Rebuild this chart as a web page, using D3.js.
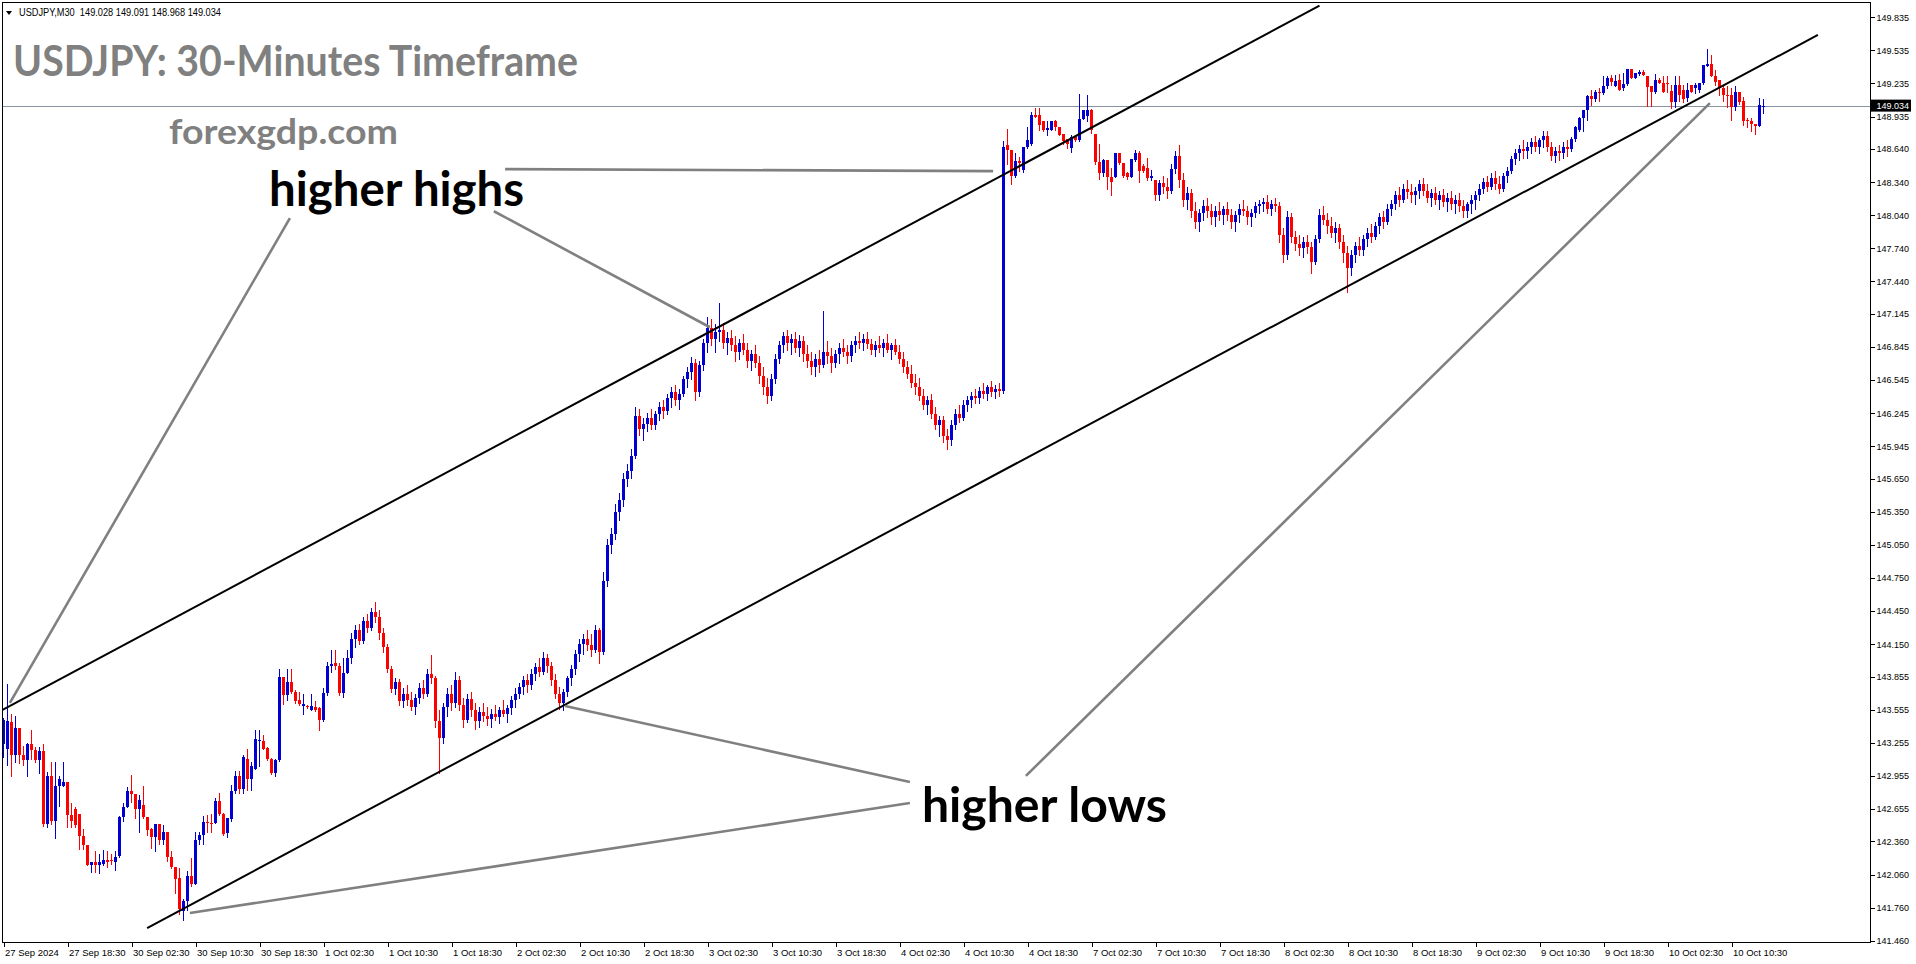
<!DOCTYPE html>
<html><head><meta charset="utf-8">
<script src="https://cdn.jsdelivr.net/npm/d3@7"></script>
<style>
html,body{margin:0;padding:0;background:#fff;overflow:hidden}
svg{display:block}
</style></head><body>
<svg id="chart" width="1916" height="964"></svg>
<script>
// ---------------- DATA ----------------
const symbolInfo = "USDJPY,M30  149.028 149.091 148.968 149.034";
const titleText = "USDJPY: 30-Minutes Timeframe";
const siteText = "forexgdp.com";
const lastPrice = 149.034;

const opens = [
143.24,143.20,143.44,143.14,143.39,143.14,143.10,143.24,143.19,143.10,
143.18,142.52,142.95,142.55,142.86,142.86,142.90,142.60,142.65,142.61,
142.41,142.33,142.15,142.17,142.15,142.16,142.19,142.19,142.17,142.23,
142.58,142.67,142.82,142.79,142.65,142.69,142.58,142.47,142.40,142.52,
142.37,142.45,142.22,142.13,142.03,141.73,141.82,142.05,141.97,142.37,
142.42,142.54,142.53,142.53,142.73,142.61,142.44,142.56,142.82,142.95,
142.84,143.11,142.93,143.02,143.27,143.27,143.21,143.11,142.98,143.10,
143.85,143.69,143.81,143.72,143.64,143.59,143.59,143.55,143.58,143.57,
143.46,143.71,143.95,143.98,143.95,143.71,143.89,144.02,144.20,144.28,
144.18,144.36,144.30,144.44,144.40,144.25,144.12,143.92,143.74,143.81,
143.63,143.70,143.64,143.58,143.66,143.75,143.70,143.88,143.84,143.45,
143.30,143.58,143.70,143.62,143.82,143.60,143.46,143.65,143.55,143.45,
143.53,143.50,143.47,143.52,143.49,143.55,143.52,143.57,143.64,143.70,
143.76,143.82,143.78,143.88,143.94,143.90,144.02,143.95,143.82,143.70,
143.62,143.72,143.84,143.92,144.06,144.15,144.20,144.14,144.10,144.28,
144.08,144.72,145.05,145.15,145.35,145.46,145.65,145.72,145.86,146.22,
146.10,146.15,146.20,146.14,146.24,146.30,146.26,146.38,146.44,146.36,
146.42,146.55,146.62,146.70,146.44,146.68,146.88,147.02,146.92,146.98,
147.00,146.88,146.93,146.86,146.80,146.88,146.82,146.72,146.78,146.70,
146.58,146.48,146.40,146.55,146.74,146.86,146.94,146.88,146.92,146.84,
146.90,146.78,146.72,146.66,146.74,146.68,146.80,146.76,146.70,146.78,
146.84,146.80,146.76,146.86,146.90,146.88,146.92,146.87,146.82,146.86,
146.84,146.88,146.82,146.86,146.80,146.74,146.66,146.60,146.52,146.48,
146.40,146.32,146.36,146.24,146.14,146.18,146.04,146.00,146.14,146.24,
146.20,146.32,146.36,146.40,146.38,146.45,146.42,146.48,146.44,146.46,
146.45,148.68,148.63,148.40,148.53,148.45,148.66,148.69,148.95,148.95,
148.89,148.81,148.81,148.89,148.84,148.78,148.73,148.65,148.75,148.72,
148.91,148.94,148.99,148.78,148.52,148.42,148.54,148.39,148.39,148.60,
148.51,148.42,148.39,148.54,148.60,148.49,148.47,148.38,148.36,148.22,
148.33,148.30,148.26,148.46,148.58,148.36,148.18,148.24,148.08,147.98,
148.06,148.12,148.08,148.02,148.08,148.04,148.10,148.04,147.98,148.04,
148.10,148.08,148.02,148.06,148.12,148.14,148.16,148.10,148.14,148.12,
147.86,147.68,148.02,147.84,147.78,147.74,147.80,147.75,147.62,147.82,
148.04,148.00,147.94,147.88,147.92,147.80,147.70,147.56,147.68,147.76,
147.72,147.82,147.88,147.84,147.94,148.02,147.98,148.10,148.14,148.22,
148.18,148.28,148.25,148.22,148.26,148.32,148.26,148.20,148.24,148.18,
148.22,148.16,148.20,148.14,148.18,148.12,148.08,148.14,148.18,148.22,
148.28,148.34,148.30,148.38,148.32,148.28,148.40,148.44,148.55,148.60,
148.64,148.62,148.66,148.70,148.66,148.72,148.76,148.66,148.58,148.62,
148.60,148.66,148.64,148.73,148.81,148.92,148.99,149.12,149.09,149.16,
149.15,149.21,149.28,149.21,149.27,149.19,149.23,149.37,149.28,149.32,
149.34,149.30,149.21,149.16,149.27,149.24,149.24,149.17,149.07,149.22,
149.18,149.10,149.22,149.19,149.18,149.24,149.39,149.41,149.30,149.27,
149.19,149.13,149.13,149.02,149.16,149.08,148.90,148.89,148.87,148.85,
149.028];

const highs = [
143.48,143.79,143.52,143.50,143.39,143.23,143.25,143.37,143.22,143.22,
143.24,142.99,143.08,143.08,142.95,143.08,142.90,142.71,142.67,142.61,
142.47,142.33,142.17,142.27,142.25,142.28,142.27,142.25,142.27,142.59,
142.71,142.85,142.96,142.79,142.78,142.86,142.58,142.48,142.52,142.52,
142.51,142.45,142.27,142.13,142.12,141.84,142.09,142.21,142.45,142.45,
142.59,142.60,142.61,142.75,142.80,142.62,142.57,142.87,143.00,143.00,
143.14,143.20,143.08,143.37,143.37,143.33,143.22,143.12,143.11,143.92,
143.85,143.92,143.92,143.73,143.72,143.70,143.60,143.70,143.63,143.58,
143.75,143.99,144.10,144.10,143.98,144.02,144.10,144.25,144.32,144.33,
144.40,144.42,144.48,144.53,144.46,144.30,144.15,143.95,143.84,143.83,
143.75,143.78,143.72,143.70,143.80,143.82,143.92,144.05,143.86,143.55,
143.62,143.75,143.78,143.90,143.86,143.66,143.70,143.72,143.62,143.58,
143.62,143.58,143.56,143.60,143.58,143.64,143.60,143.68,143.75,143.80,
143.86,143.88,143.92,143.98,144.02,144.08,144.06,143.99,143.88,143.76,
143.74,143.86,143.96,144.10,144.20,144.24,144.28,144.24,144.32,144.30,
144.80,145.10,145.20,145.42,145.52,145.70,145.78,145.92,146.30,146.28,
146.20,146.25,146.28,146.26,146.35,146.36,146.42,146.48,146.50,146.46,
146.58,146.66,146.75,146.74,146.72,146.92,147.12,147.10,147.05,147.24,
147.06,146.98,147.00,146.94,146.92,146.96,146.88,146.82,146.86,146.76,
146.66,146.56,146.60,146.78,146.90,146.98,147.00,146.96,146.98,146.95,
146.94,146.86,146.80,146.78,146.82,147.17,146.90,146.84,146.82,146.88,
146.92,146.86,146.90,146.94,146.98,146.96,146.98,146.92,146.90,146.94,
146.92,146.96,146.88,146.92,146.86,146.80,146.72,146.68,146.60,146.56,
146.46,146.40,146.42,146.30,146.22,146.22,146.10,146.18,146.28,146.32,
146.36,146.40,146.44,146.46,146.48,146.52,146.50,146.54,146.50,146.52,
148.71,148.82,148.63,148.60,148.57,148.66,148.84,148.98,149.01,149.01,
148.89,148.89,148.89,148.90,148.84,148.78,148.73,148.77,148.77,149.14,
148.99,149.13,149.00,148.78,148.69,148.55,148.54,148.47,148.60,148.60,
148.51,148.43,148.55,148.63,148.62,148.50,148.56,148.45,148.36,148.36,
148.40,148.38,148.50,148.62,148.68,148.42,148.30,148.28,148.16,148.10,
148.18,148.20,148.14,148.12,148.16,148.12,148.16,148.10,148.08,148.14,
148.18,148.12,148.10,148.16,148.18,148.20,148.22,148.18,148.20,148.16,
147.92,148.08,148.06,147.90,147.86,147.84,147.86,147.80,147.86,148.10,
148.12,148.06,148.02,147.98,147.96,147.86,147.76,147.72,147.80,147.84,
147.86,147.92,147.96,147.98,148.06,148.08,148.14,148.18,148.26,148.30,
148.32,148.36,148.32,148.30,148.36,148.38,148.32,148.28,148.30,148.26,
148.28,148.24,148.26,148.22,148.24,148.18,148.16,148.22,148.26,148.32,
148.38,148.40,148.42,148.44,148.40,148.42,148.48,148.58,148.64,148.68,
148.72,148.70,148.74,148.76,148.74,148.80,148.80,148.70,148.66,148.68,
148.70,148.72,148.75,148.85,148.93,148.99,149.13,149.18,149.18,149.19,
149.30,149.30,149.31,149.31,149.32,149.33,149.37,149.37,149.33,149.36,
149.36,149.30,149.21,149.32,149.28,149.30,149.30,149.22,149.30,149.30,
149.22,149.24,149.22,149.24,149.24,149.40,149.55,149.49,149.36,149.27,
149.22,149.21,149.19,149.21,149.16,149.11,148.92,148.92,148.87,149.10,
149.091];

const lows = [
143.13,143.05,142.95,143.08,143.07,143.05,142.95,143.11,143.08,142.98,
142.50,142.49,142.52,142.39,142.68,142.86,142.49,142.49,142.49,142.29,
142.29,142.15,142.08,142.08,142.07,142.15,142.13,142.16,142.10,142.22,
142.55,142.67,142.72,142.57,142.45,142.57,142.42,142.30,142.27,142.34,
142.34,142.18,142.12,141.89,141.70,141.65,141.74,141.96,141.97,142.34,
142.34,142.45,142.45,142.53,142.60,142.42,142.40,142.55,142.80,142.80,
142.80,142.83,142.83,143.02,143.04,143.20,143.10,142.97,142.95,143.09,
143.61,143.64,143.71,143.62,143.60,143.52,143.57,143.55,143.54,143.37,
143.45,143.69,143.90,143.92,143.69,143.67,143.89,143.98,144.12,144.15,
144.16,144.26,144.28,144.35,144.20,144.08,143.90,143.72,143.70,143.60,
143.58,143.60,143.55,143.52,143.62,143.66,143.68,143.80,143.40,142.98,
143.25,143.50,143.55,143.58,143.55,143.40,143.44,143.50,143.38,143.40,
143.45,143.42,143.40,143.46,143.43,143.50,143.44,143.52,143.58,143.66,
143.70,143.72,143.74,143.82,143.86,143.88,143.90,143.78,143.66,143.56,
143.55,143.68,143.78,143.88,144.00,144.06,144.10,144.04,144.08,143.98,
144.06,144.68,144.98,145.10,145.28,145.40,145.58,145.66,145.84,146.05,
146.00,146.08,146.10,146.10,146.18,146.20,146.24,146.30,146.32,146.28,
146.40,146.48,146.55,146.36,146.40,146.64,146.80,146.86,146.80,146.90,
146.84,146.78,146.82,146.72,146.74,146.78,146.66,146.64,146.66,146.52,
146.42,146.34,146.36,146.52,146.70,146.80,146.82,146.78,146.80,146.76,
146.72,146.66,146.60,146.58,146.62,146.66,146.70,146.62,146.66,146.70,
146.76,146.70,146.72,146.80,146.84,146.82,146.84,146.78,146.76,146.80,
146.76,146.80,146.74,146.78,146.70,146.62,146.56,146.48,146.42,146.36,
146.28,146.24,146.20,146.10,146.04,145.98,145.92,145.96,146.10,146.16,
146.18,146.26,146.30,146.34,146.34,146.38,146.36,146.40,146.38,146.40,
146.43,148.50,148.32,148.39,148.44,148.43,148.65,148.68,148.93,148.81,
148.80,148.77,148.81,148.81,148.77,148.69,148.65,148.61,148.71,148.71,
148.91,148.89,148.79,148.50,148.37,148.40,148.28,148.22,148.39,148.50,
148.39,148.37,148.39,148.53,148.34,148.43,148.36,148.36,148.18,148.18,
148.24,148.20,148.24,148.42,148.30,148.12,148.10,148.02,147.92,147.90,
148.00,148.02,147.96,147.94,148.00,147.96,148.00,147.92,147.90,147.98,
148.04,147.96,147.94,148.02,148.06,148.08,148.06,148.04,148.08,147.80,
147.62,147.64,147.80,147.72,147.68,147.66,147.70,147.52,147.60,147.80,
147.96,147.88,147.84,147.80,147.74,147.62,147.34,147.50,147.62,147.68,
147.68,147.76,147.80,147.82,147.88,147.92,147.96,148.04,148.10,148.12,
148.16,148.20,148.16,148.14,148.20,148.22,148.16,148.12,148.14,148.10,
148.12,148.08,148.10,148.06,148.08,148.02,148.02,148.06,148.10,148.18,
148.24,148.26,148.28,148.28,148.24,148.26,148.34,148.42,148.50,148.54,
148.56,148.56,148.60,148.62,148.60,148.66,148.62,148.54,148.52,148.54,
148.56,148.58,148.62,148.71,148.80,148.80,148.90,149.04,149.08,149.08,
149.14,149.19,149.22,149.21,149.18,149.18,149.22,149.28,149.28,149.31,
149.31,149.03,149.03,149.15,149.24,149.16,149.16,149.01,149.02,149.08,
149.07,149.08,149.16,149.15,149.16,149.23,149.39,149.30,149.22,149.13,
149.08,149.02,148.90,148.99,149.05,148.86,148.84,148.80,148.78,148.85,
148.968];

const closes = [
143.46,143.45,143.14,143.39,143.14,143.10,143.24,143.19,143.10,143.18,
142.52,142.95,142.55,142.86,142.93,142.90,142.60,142.55,142.51,142.41,
142.33,142.15,142.17,142.15,142.17,142.19,142.17,142.18,142.22,142.58,
142.67,142.82,142.79,142.65,142.74,142.58,142.46,142.40,142.52,142.37,
142.45,142.22,142.13,142.02,141.75,141.82,142.05,141.97,142.37,142.42,
142.54,142.53,142.52,142.73,142.61,142.43,142.57,142.82,142.95,142.84,
143.13,142.93,143.04,143.29,143.28,143.20,143.11,142.98,143.10,143.85,
143.69,143.81,143.72,143.63,143.61,143.61,143.58,143.59,143.55,143.46,
143.71,143.95,143.97,143.95,143.71,143.89,144.02,144.20,144.28,144.18,
144.36,144.30,144.44,144.40,144.25,144.12,143.92,143.74,143.81,143.63,
143.70,143.64,143.58,143.66,143.75,143.70,143.88,143.84,143.45,143.30,
143.58,143.70,143.62,143.82,143.60,143.46,143.65,143.55,143.45,143.53,
143.50,143.47,143.52,143.49,143.55,143.52,143.57,143.64,143.70,143.76,
143.82,143.78,143.88,143.94,143.90,144.02,143.95,143.82,143.70,143.62,
143.72,143.84,143.92,144.06,144.15,144.20,144.14,144.10,144.28,144.08,
144.72,145.05,145.15,145.35,145.46,145.65,145.72,145.86,146.22,146.10,
146.15,146.20,146.14,146.24,146.30,146.26,146.38,146.44,146.36,146.42,
146.55,146.62,146.70,146.44,146.68,146.88,147.02,146.92,146.98,147.00,
146.88,146.93,146.86,146.80,146.88,146.82,146.72,146.78,146.70,146.58,
146.48,146.40,146.55,146.74,146.86,146.94,146.88,146.92,146.84,146.90,
146.78,146.72,146.66,146.74,146.68,146.80,146.76,146.70,146.78,146.84,
146.80,146.76,146.86,146.90,146.88,146.92,146.87,146.82,146.86,146.84,
146.88,146.82,146.86,146.80,146.74,146.66,146.60,146.52,146.48,146.40,
146.32,146.36,146.24,146.14,146.18,146.04,146.00,146.14,146.24,146.20,
146.32,146.36,146.40,146.38,146.45,146.42,146.48,146.44,146.46,146.45,
148.66,148.63,148.40,148.53,148.51,148.66,148.72,148.95,148.93,148.86,
148.81,148.83,148.89,148.84,148.77,148.71,148.69,148.75,148.72,148.91,
148.99,148.99,148.81,148.52,148.42,148.54,148.39,148.34,148.60,148.51,
148.40,148.39,148.55,148.60,148.44,148.44,148.38,148.40,148.22,148.33,
148.30,148.26,148.46,148.58,148.36,148.18,148.24,148.08,147.98,148.06,
148.12,148.08,148.02,148.08,148.04,148.10,148.04,147.98,148.04,148.10,
148.08,148.02,148.06,148.12,148.14,148.16,148.10,148.14,148.12,147.86,
147.68,148.02,147.84,147.78,147.74,147.80,147.75,147.62,147.82,148.04,
148.00,147.94,147.88,147.92,147.80,147.70,147.56,147.68,147.76,147.72,
147.82,147.88,147.84,147.94,148.02,147.98,148.10,148.14,148.22,148.18,
148.28,148.25,148.22,148.26,148.32,148.26,148.20,148.24,148.18,148.22,
148.16,148.20,148.14,148.18,148.12,148.08,148.14,148.18,148.22,148.28,
148.34,148.30,148.38,148.32,148.28,148.40,148.44,148.55,148.60,148.64,
148.62,148.66,148.70,148.66,148.72,148.76,148.66,148.58,148.62,148.60,
148.66,148.64,148.73,148.84,148.92,148.99,149.12,149.09,149.16,149.15,
149.21,149.28,149.25,149.26,149.18,149.23,149.37,149.28,149.33,149.34,
149.31,149.20,149.16,149.27,149.24,149.16,149.23,149.07,149.22,149.13,
149.09,149.18,149.16,149.22,149.24,149.40,149.41,149.30,149.25,149.19,
149.13,149.12,149.02,149.16,149.07,148.89,148.89,148.87,148.85,149.04,
149.034];

const priceTicks = [141.460,141.760,142.060,142.360,142.655,142.955,143.255,143.555,143.855,
  144.150,144.450,144.750,145.050,145.350,145.650,145.945,146.245,146.545,146.845,147.145,
  147.440,147.740,148.040,148.340,148.640,148.935,149.235,149.535,149.835];

const timeTickBars = [0,16,32,48,64,80,96,112,128,144,160,176,192,208,224,240,256,272,288,304,320,336,352,368,384,400,416,432];
const timeTickLabels = ["27 Sep 2024","27 Sep 18:30","30 Sep 02:30","30 Sep 10:30","30 Sep 18:30",
  "1 Oct 02:30","1 Oct 10:30","1 Oct 18:30","2 Oct 02:30","2 Oct 10:30","2 Oct 18:30",
  "3 Oct 02:30","3 Oct 10:30","3 Oct 18:30","4 Oct 02:30","4 Oct 10:30","4 Oct 18:30",
  "7 Oct 02:30","7 Oct 10:30","7 Oct 18:30","8 Oct 02:30","8 Oct 10:30","8 Oct 18:30",
  "9 Oct 02:30","9 Oct 10:30","9 Oct 18:30","10 Oct 02:30","10 Oct 10:30"];

// trend channel anchors: [bar index, price]
const channelLines = [
  [[-0.4,143.55],[329,149.94]],
  [[35.9,141.575],[453.6,149.675]]
];
// annotation pointer lines: [bar index, price]
const pointerLines = [
  [[71.6,148.014],[1.6,143.617]],
  [[125.4,148.458],[247.4,148.44]],
  [[122.6,148.076],[176.6,147.024]],
  [[226.6,142.900],[140.4,143.589]],
  [[226.6,142.709],[46.6,141.711]],
  [[255.6,142.955],[426.6,149.056]]
];
const labelTexts = ["higher highs","higher lows"];
const labelAnchors = [[66.4,148.123],[229.6,142.537]];

// ---------------- DRAW ----------------
const svg = d3.select("#chart");
const W = 1916, H = 964;
const pL = 2.5, pR = 1870.5, pT = 2.5, pB = 942.5;

const x = d3.scaleLinear().domain([0, 440]).range([3.5, 1763.5]);
const y = d3.scaleLinear().domain([141.46, 149.835]).range([940.7, 17.3]);

svg.append("rect").attr("width", W).attr("height", H).attr("fill", "#fff");

svg.append("defs").append("clipPath").attr("id", "plot")
  .append("rect").attr("x", 3).attr("y", 3).attr("width", pR - 3).attr("height", pB - 3);

const plot = svg.append("g").attr("clip-path", "url(#plot)");

// current price line
const yl = Math.round(y(lastPrice)) + 0.5;
plot.append("line").attr("x1", pL).attr("x2", pR).attr("y1", yl).attr("y2", yl)
  .attr("stroke", "#8a949e").attr("stroke-width", 1);

// candles
const bull = "#0000d2", bear = "#ff0000";
const candles = plot.append("g").attr("shape-rendering", "crispEdges");
const idx = d3.range(closes.length);
candles.selectAll("rect.wick").data(idx).join("rect").attr("class", "wick")
  .attr("x", i => Math.floor(x(i)))
  .attr("width", 1)
  .attr("y", i => Math.round(y(highs[i])))
  .attr("height", i => Math.max(1, Math.round(y(lows[i])) - Math.round(y(highs[i])) + 1))
  .attr("fill", i => closes[i] >= opens[i] ? bull : bear);
candles.selectAll("rect.body").data(idx).join("rect").attr("class", "body")
  .attr("x", i => Math.floor(x(i)) - 1)
  .attr("width", 3)
  .attr("y", i => Math.round(y(Math.max(opens[i], closes[i]))))
  .attr("height", i => Math.max(1, Math.round(y(Math.min(opens[i], closes[i]))) - Math.round(y(Math.max(opens[i], closes[i])))))
  .attr("fill", i => closes[i] >= opens[i] ? bull : bear);

// lines
const line = d3.line().x(d => x(d[0])).y(d => y(d[1]));
plot.selectAll("path.channel").data(channelLines).join("path").attr("class", "channel")
  .attr("d", line).attr("stroke", "#000").attr("stroke-width", 2).attr("fill", "none");
plot.selectAll("path.pointer").data(pointerLines).join("path").attr("class", "pointer")
  .attr("d", line).attr("stroke", "#808080").attr("stroke-width", 2.6).attr("fill", "none");

// annotation labels
plot.selectAll("text.note").data(labelTexts).join("text").attr("class", "note")
  .attr("x", (d, i) => x(labelAnchors[i][0]))
  .attr("y", (d, i) => y(labelAnchors[i][1]))
  .attr("font-family", "Lato, 'Open Sans', sans-serif").attr("font-weight", 700)
  .attr("font-size", 48).attr("fill", "#000")
  .attr("textLength", (d, i) => i === 0 ? 255 : 245).attr("lengthAdjust", "spacingAndGlyphs")
  .text(d => d);

// title texts
svg.append("text").attr("x", 13).attr("y", 76)
  .attr("font-family", "Lato, 'Open Sans', sans-serif").attr("font-weight", 700)
  .attr("font-size", 41.5).attr("fill", "#808080")
  .attr("textLength", 565).attr("lengthAdjust", "spacingAndGlyphs").text(titleText);
svg.append("text").attr("x", 169).attr("y", 144)
  .attr("font-family", "Lato, 'Open Sans', sans-serif").attr("font-weight", 700)
  .attr("font-size", 34).attr("fill", "#808080")
  .attr("textLength", 229).attr("lengthAdjust", "spacingAndGlyphs").text(siteText);

// header
svg.append("path").attr("d", "M6,11 L12,11 L9,15 Z").attr("fill", "#000");
svg.append("text").attr("x", 19).attr("y", 15.5)
  .attr("font-family", "'Liberation Sans', Arial, sans-serif").attr("font-size", 10)
  .attr("fill", "#000").style("white-space", "pre")
  .attr("textLength", 202).attr("lengthAdjust", "spacingAndGlyphs").text(symbolInfo);

// frame
svg.append("rect").attr("x", pL).attr("y", pT).attr("width", pR - pL).attr("height", pB - pT)
  .attr("fill", "none").attr("stroke", "#000").attr("stroke-width", 1).attr("shape-rendering", "crispEdges");

// price axis
const yAxis = svg.append("g").attr("transform", `translate(${pR},0)`)
  .call(d3.axisRight(y).tickValues(priceTicks).tickSize(4).tickPadding(2).tickFormat(d3.format(".3f")));
yAxis.select(".domain").remove();
yAxis.selectAll("line").attr("stroke", "#000").attr("shape-rendering", "crispEdges");
yAxis.selectAll("text").attr("font-family", "'Liberation Sans', Arial, sans-serif")
  .attr("font-size", 9).attr("fill", "#000");

// price tag
const tag = svg.append("g").attr("transform", `translate(${pR},${y(lastPrice)})`);
tag.append("rect").attr("x", 0.5).attr("y", -6).attr("width", 40).attr("height", 12).attr("fill", "#000");
tag.append("text").attr("x", 6).attr("y", 0).attr("dy", "0.35em")
  .attr("font-family", "'Liberation Sans', Arial, sans-serif").attr("font-size", 9)
  .attr("fill", "#fff").text(d3.format(".3f")(lastPrice));

// time axis
const xAxis = svg.append("g").attr("transform", `translate(0,${pB})`)
  .call(d3.axisBottom(x).tickValues(timeTickBars).tickSize(4).tickFormat((d, i) => timeTickLabels[i]));
xAxis.select(".domain").remove();
xAxis.selectAll("line").attr("stroke", "#000").attr("shape-rendering", "crispEdges");
xAxis.selectAll("text").attr("text-anchor", "start").attr("x", 1).attr("y", 7).attr("dy", "0.71em")
  .attr("font-family", "'Liberation Sans', Arial, sans-serif").attr("font-size", 9.5).attr("fill", "#000");
</script>
</body></html>
